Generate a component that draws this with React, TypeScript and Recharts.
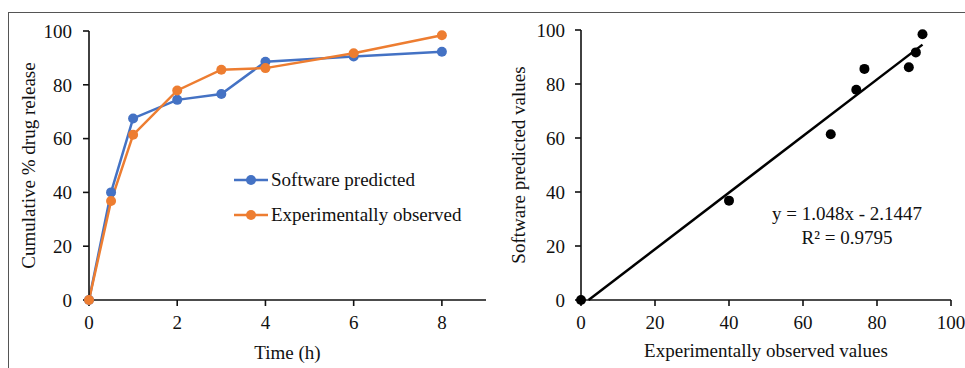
import { LineChart, Line, ScatterChart, Scatter, XAxis, YAxis, Label, Legend } from "recharts";

const timePoints = [0, 0.5, 1, 2, 3, 4, 6, 8];
const softwarePredicted = [0, 40.0, 67.5, 74.4, 76.6, 88.6, 90.5, 92.3];
const experimentallyObserved = [0, 36.8, 61.4, 77.9, 85.6, 86.2, 91.7, 98.4];
const seriesNames = ["Software predicted", "Experimentally observed"];
const timeTicks = [0, 2, 4, 6, 8];
const percentTicks = [0, 20, 40, 60, 80, 100];
const valueTicks = [0, 20, 40, 60, 80, 100];

// linear fit shown on the right panel
const trendSlope = 1.048;
const trendIntercept = -2.1447;
const trendRange = [2.05, 92.3];

const BLUE = "#4472C4";
const ORANGE = "#ED7D31";
const FONT = "'Liberation Serif', 'Times New Roman', serif";
const FS = 19;

const releaseData = timePoints.map((t, i) => ({
  time: t,
  predicted: softwarePredicted[i],
  observed: experimentallyObserved[i],
}));

const scatterData = softwarePredicted.map((v, i) => ({ x: v, y: experimentallyObserved[i] }));
const trendData = trendRange.map((x) => ({ x, y: trendSlope * x + trendIntercept }));

const axisLine = { stroke: "#111", strokeWidth: 1.6 };

const xTick = (p: any) => (
  <text x={p.x} y={p.y} dy="0.71em" textAnchor="middle" fontFamily={FONT} fontSize={FS} fill="#111">
    {p.payload.value}
  </text>
);

const yTick = (p: any) => (
  <text x={p.x} y={p.y} dy="0.355em" textAnchor="end" fontFamily={FONT} fontSize={FS} fill="#111">
    {p.payload.value}
  </text>
);

const yTitle = (text: string) => (props: any) => {
  const vb = props.viewBox;
  const x = vb.x + 28;
  const y = vb.y + vb.height / 2;
  return (
    <text x={x} y={y} transform={`rotate(-90 ${x} ${y})`} textAnchor="middle" dominantBaseline="central"
      fontFamily={FONT} fontSize={FS} fill="#111">{text}</text>
  );
};

const xTitle = (text: string, dy: number) => (props: any) => {
  const vb = props.viewBox;
  return (
    <text x={vb.x + vb.width / 2} y={vb.y + dy} textAnchor="middle" dominantBaseline="central"
      fontFamily={FONT} fontSize={FS} fill="#111">{text}</text>
  );
};

const renderLegend = (props: any) => {
  const items = [...(props.payload || [])].sort(
    (a: any, b: any) => seriesNames.indexOf(a.value) - seriesNames.indexOf(b.value)
  );
  return (
    <div style={{ fontFamily: FONT, fontSize: FS, color: "#111", whiteSpace: "nowrap" }}>
      {items.map((entry: any) => (
        <div key={entry.value} style={{ display: "flex", alignItems: "center", height: 35 }}>
          <svg width={34} height={12}>
            <line x1={0} y1={6} x2={34} y2={6} stroke={entry.color} strokeWidth={2.5} />
            <circle cx={17} cy={6} r={5} fill={entry.color} />
          </svg>
          <span style={{ marginLeft: 3 }}>{entry.value}</span>
        </div>
      ))}
    </div>
  );
};

export default function App() {
  return (
    <div style={{ position: "absolute", left: 0, top: 0, width: 965, height: 368, background: "#fff",
      overflow: "hidden", fontFamily: FONT }}>
      {/* frame */}
      <div style={{ position: "absolute", left: 8, top: 12, width: 965, height: 368, borderLeft: "1.5px solid #555", borderTop: "1.5px solid #555" }} />

      <div style={{ position: "absolute", left: 0, top: 0 }}>
        <LineChart width={490} height={368} data={releaseData} margin={{ top: 31, right: 4, bottom: 8, left: 0 }}>
          <XAxis dataKey="time" type="number" domain={[0, 9]} ticks={timeTicks} height={60}
            tick={xTick} tickSize={6} tickMargin={10} axisLine={axisLine} tickLine={axisLine}>
            <Label content={xTitle("Time (h)", 52)} />
          </XAxis>
          <YAxis type="number" domain={[0, 100]} ticks={percentTicks} width={89}
            tick={yTick} tickSize={6} tickMargin={11} axisLine={axisLine} tickLine={axisLine}>
            <Label content={yTitle("Cumulative % drug release")} />
          </YAxis>
          <Legend layout="vertical" align="center" verticalAlign="middle" content={renderLegend}
            wrapperStyle={{ left: 234, top: 162, width: "auto", height: "auto" }} />
          <Line name={seriesNames[0]} dataKey="predicted" stroke={BLUE} strokeWidth={2.5}
            dot={{ r: 5, fill: BLUE, stroke: BLUE, strokeWidth: 0 }} isAnimationActive={false} />
          <Line name={seriesNames[1]} dataKey="observed" stroke={ORANGE} strokeWidth={2.5}
            dot={{ r: 5, fill: ORANGE, stroke: ORANGE, strokeWidth: 0 }} isAnimationActive={false} />
        </LineChart>
      </div>

      <div style={{ position: "absolute", left: 490, top: 0 }}>
        <ScatterChart width={475} height={368} margin={{ top: 30, right: 14, bottom: 8, left: 0 }}>
          <XAxis dataKey="x" type="number" domain={[0, 100]} ticks={valueTicks} height={60}
            tick={xTick} tickSize={6} tickMargin={10} axisLine={axisLine} tickLine={axisLine}>
            <Label content={xTitle("Experimentally observed values", 50)} />
          </XAxis>
          <YAxis dataKey="y" type="number" domain={[0, 100]} ticks={valueTicks} width={91}
            tick={yTick} tickSize={6} tickMargin={10} axisLine={axisLine} tickLine={axisLine}>
            <Label content={yTitle("Software predicted values")} />
          </YAxis>
          <Scatter data={trendData} line={{ stroke: "#000", strokeWidth: 2.5 }} shape={() => <g />}
            isAnimationActive={false} />
          <Scatter data={scatterData} fill="#000"
            shape={(p: any) => <circle cx={p.cx} cy={p.cy} r={5} fill="#000" />} isAnimationActive={false} />
        </ScatterChart>
      </div>

      <div style={{ position: "absolute", left: 747, top: 202, width: 200, textAlign: "center",
        fontFamily: FONT, fontSize: FS, color: "#111", lineHeight: "24px" }}>
        <div>y = 1.048x - 2.1447</div>
        <div>R² = 0.9795</div>
      </div>
    </div>
  );
}
